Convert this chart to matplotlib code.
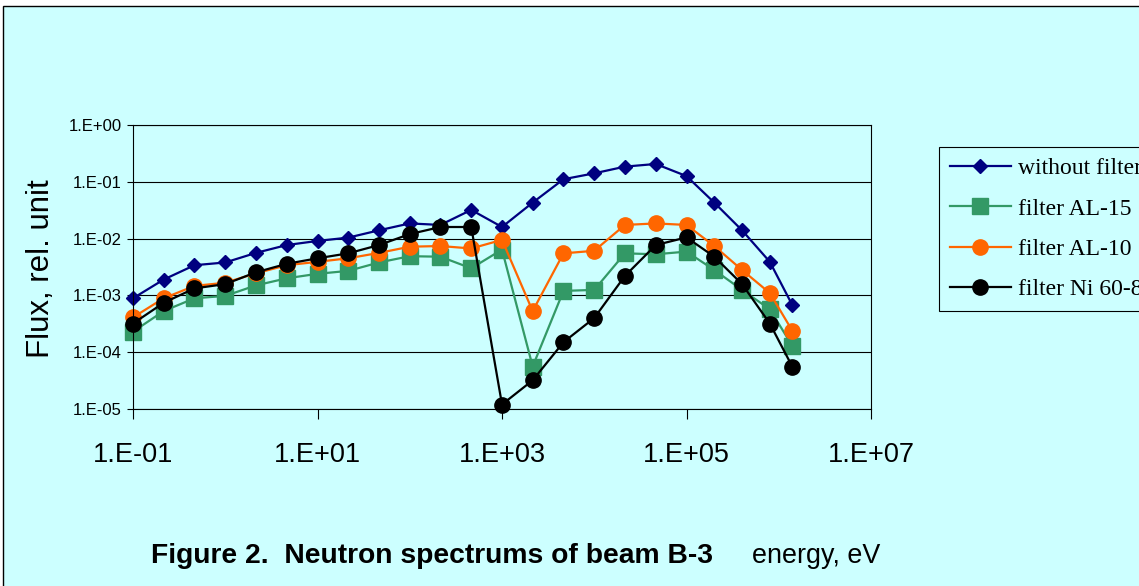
import matplotlib
matplotlib.use('Agg')
import matplotlib.pyplot as plt
from matplotlib.patches import Rectangle
from matplotlib.ticker import NullLocator

# energy points, eV
energy = [0.1, 0.215, 0.464, 1, 2.15, 4.64, 10, 21.5, 46.4, 100, 215, 464,
          1000, 2150, 4640, 1e4, 2.15e4, 4.64e4, 1e5, 2e5, 4e5, 8e5, 1.4e6]

no_filter = [8.9e-4, 1.9e-3, 3.4e-3, 3.8e-3, 5.6e-3, 7.7e-3, 9.1e-3, 1.04e-2,
             1.4e-2, 1.85e-2, 1.74e-2, 3.2e-2, 1.6e-2, 4.3e-2, 0.111, 0.141,
             0.185, 0.206, 0.126, 0.043, 0.014, 3.9e-3, 6.8e-4]
al15 = [2.3e-4, 5.3e-4, 8.9e-4, 9.8e-4, 1.5e-3, 2.0e-3, 2.4e-3, 2.7e-3,
        3.8e-3, 4.9e-3, 4.8e-3, 3.0e-3, 6.4e-3, 5.6e-5, 1.2e-3, 1.25e-3,
        5.5e-3, 5.3e-3, 5.9e-3, 2.8e-3, 1.25e-3, 5.7e-4, 1.3e-4]
al10 = [4.1e-4, 8.9e-4, 1.47e-3, 1.67e-3, 2.45e-3, 3.4e-3, 3.9e-3, 4.5e-3,
        5.6e-3, 7.2e-3, 7.4e-3, 6.7e-3, 9.5e-3, 5.3e-4, 5.5e-3, 6.1e-3,
        1.74e-2, 1.85e-2, 1.74e-2, 7.4e-3, 2.8e-3, 1.1e-3, 2.4e-4]
ni = [3.2e-4, 7.4e-4, 1.33e-3, 1.58e-3, 2.55e-3, 3.6e-3, 4.5e-3, 5.5e-3,
      7.7e-3, 1.2e-2, 1.6e-2, 1.6e-2, 1.2e-5, 3.2e-5, 1.5e-4, 4.0e-4,
      2.2e-3, 7.7e-3, 1.05e-2, 4.8e-3, 1.58e-3, 3.2e-4, 5.6e-5]

xticks = [1e-1, 1e1, 1e3, 1e5, 1e7]
xlabels = ['1.E-01', '1.E+01', '1.E+03', '1.E+05', '1.E+07']
yticks = [1e-5, 1e-4, 1e-3, 1e-2, 1e-1, 1e0]
ylabels = ['1.E-05', '1.E-04', '1.E-03', '1.E-02', '1.E-01', '1.E+00']

bg = '#CCFFFF'
W, H = 1139, 586

plt.rcParams['font.family'] = ['Liberation Sans', 'DejaVu Sans']

fig = plt.figure(figsize=(W / 100, H / 100), dpi=100, facecolor='white')
fig.patches.append(Rectangle((3 / W, -0.02), 1.05, 1 - 6 / H + 0.02,
                             transform=fig.transFigure, facecolor=bg,
                             edgecolor='black', lw=1, zorder=-10))

ax = fig.add_axes([133 / W, 1 - 409 / H, (871 - 133) / W, (409 - 125) / H])
ax.set_facecolor(bg)
ax.set_xscale('log')
ax.set_yscale('log')

series = [
    (no_filter, 'without filter', '#000080', 'D', 7.5),
    (al15, 'filter AL-15', '#339966', 's', 11),
    (al10, 'filter AL-10', '#FF6600', 'o', 11),
    (ni, 'filter Ni 60-80', 'black', 'o', 11),
]
for vals, name, col, mk, ms in series:
    ax.plot(energy, vals, color=col, lw=1.6, marker=mk, markersize=ms,
            markerfacecolor=col, markeredgecolor=col, label=name, clip_on=False)

ax.set_xlim(0.1, 1e7)
ax.set_ylim(1e-5, 1)
ax.set_xticks(xticks)
ax.set_xticklabels(xlabels)
ax.set_yticks(yticks)
ax.set_yticklabels(ylabels)
ax.xaxis.set_minor_locator(NullLocator())
ax.yaxis.set_minor_locator(NullLocator())
ax.grid(axis='y', color='black', lw=0.8)
ax.set_axisbelow(True)
ax.tick_params(axis='x', direction='out', length=7, width=0.8, labelsize=19.5, pad=17)
ax.tick_params(axis='y', direction='out', length=4, width=0.8, labelsize=12, pad=4)
for s in ax.spines.values():
    s.set_linewidth(0.8)

fig.text(41 / W, 1 - 269 / H, 'Flux, rel. unit', rotation=90, fontsize=22.5,
         ha='center', va='center')
fig.text(151 / W, 1 - 556 / H, 'Figure 2.  Neutron spectrums of beam B-3',
         fontsize=20.3, weight='bold', ha='left', va='center')
fig.text(752 / W, 1 - 556 / H, 'energy, eV', fontsize=19.4, ha='left', va='center')

leg = fig.legend(loc='upper left', bbox_to_anchor=(939 / W, 1 - 147 / H),
                 prop={'family': 'Liberation Serif', 'size': 17},
                 fancybox=False, edgecolor='black', facecolor=bg, framealpha=1,
                 borderpad=0.45, handlelength=2.6, handletextpad=0.3,
                 labelspacing=0.8, borderaxespad=0)
leg.get_frame().set_linewidth(0.8)

fig.savefig('out.png', dpi=100, facecolor=fig.get_facecolor())
